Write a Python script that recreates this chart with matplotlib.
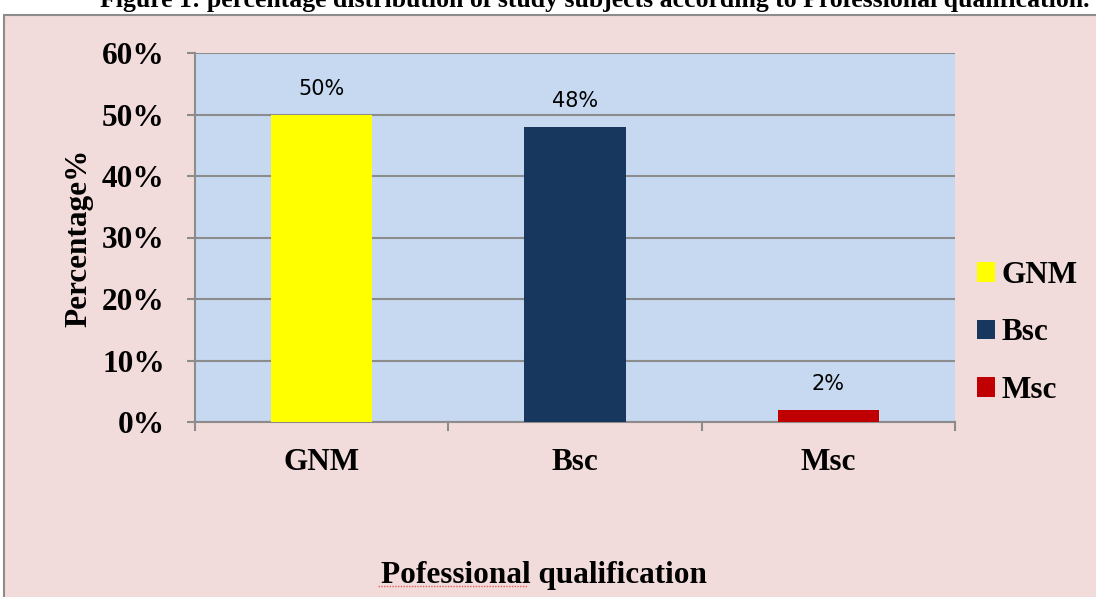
import matplotlib
matplotlib.use("Agg")
import matplotlib.pyplot as plt
from matplotlib.patches import Rectangle

categories = ["GNM", "Bsc", "Msc"]
values = [50, 48, 2]
colors = ["#FFFF00", "#17375E", "#C00000"]
yticks = [0, 10, 20, 30, 40, 50, 60]

W, H = 1096, 597
fig = plt.figure(figsize=(W / 100, H / 100), dpi=100)
fig.patch.set_facecolor("#F2DCDB")

serif = "Liberation Serif"
FS = 22.5

# outer chart border
fig.add_artist(Rectangle((4 / W, -0.1), 1.2, 1 - 15 / H + 0.1, transform=fig.transFigure,
                         facecolor="none", edgecolor="#8C8C8C", lw=1.5))
fig.add_artist(Rectangle((0, 1 - 15 / H), 1, 15 / H, transform=fig.transFigure,
                         facecolor="white", edgecolor="none", zorder=0))
fig.add_artist(Rectangle((0, 0), 4 / W, 1, transform=fig.transFigure,
                         facecolor="white", edgecolor="none", zorder=0))

fig.text(595 / W, 1 - 1 / H, "Figure 1: percentage distribution of study subjects according to Professional qualification.",
         ha="center", va="center", fontsize=18.5, fontweight="bold", family=serif)

ax = fig.add_axes([195 / W, 1 - 422 / H, 760 / W, (422 - 53) / H])
ax.set_facecolor("#C6D9F1")
x = range(len(categories))
ax.bar(x, values, width=0.4, color=colors, zorder=3)
ax.set_xlim(-0.5, 2.5)
ax.set_ylim(0, 60)
ax.set_yticks(yticks)
ax.set_yticklabels([f"{v}%" for v in yticks], fontsize=FS, fontweight="bold", family=serif)
ax.set_xticks(list(x))
ax.set_xticklabels(categories, fontsize=FS, fontweight="bold", family=serif)
ax.tick_params(axis="x", length=0, pad=18.5)
ax.tick_params(axis="y", length=5.8, width=1.5, color="#8C8C8C", pad=16)
ax.grid(axis="y", color="#8C8C8C", lw=1.5, zorder=1)
for s in ["top", "right"]:
    ax.spines[s].set_visible(False)
for s in ["left", "bottom"]:
    ax.spines[s].set_color("#8C8C8C")
    ax.spines[s].set_linewidth(1.5)
# category boundary tick marks
for b in [-0.5, 0.5, 1.5, 2.5]:
    ax.plot([b, b], [0, -1.3], color="#8C8C8C", lw=1.5, clip_on=False, zorder=4)

for xi, v in zip(x, values):
    ax.text(xi, v + 2.5, f"{v}%", ha="center", va="bottom", fontsize=15, family="DejaVu Sans")

fig.text(79 / W, 1 - 238 / H, "Percentage%", rotation=90, ha="center", va="center",
         fontsize=FS, fontweight="bold", family=serif)
fig.text(544 / W, 1 - 575 / H, "Pofessional qualification", ha="center", va="center",
         fontsize=FS, fontweight="bold", family=serif)
# spell-check style wavy underline under "Pofessional"
fig.add_artist(plt.Line2D([378 / W, 528 / W], [1 - 586 / H, 1 - 586 / H], transform=fig.transFigure,
                          color="#E06060", lw=1.0, ls=(0, (1, 1))))

handles = [Rectangle((0, 0), 1, 1, facecolor=c) for c in colors]
fig.legend(handles, categories, loc="center left", bbox_to_anchor=(961 / W, 1 - 333 / H),
           frameon=False, prop={"family": serif, "weight": "bold", "size": FS},
           handlelength=0.6, handleheight=0.6, handletextpad=0.2, labelspacing=0.9,
           borderpad=0)

fig.savefig("out.png", dpi=100, facecolor=fig.get_facecolor())
